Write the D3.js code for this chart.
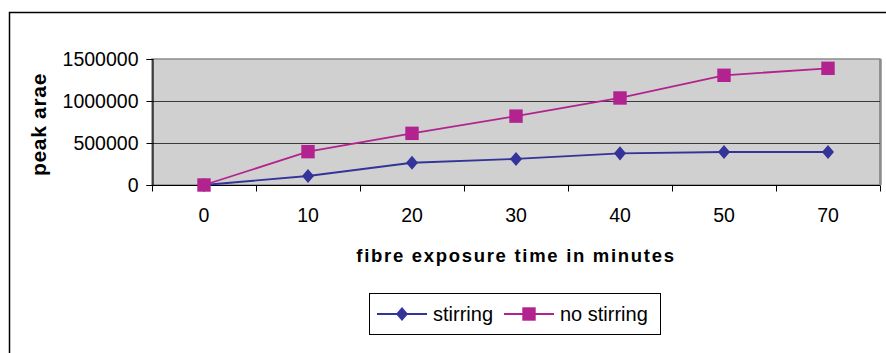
<!DOCTYPE html>
<html>
<head>
<meta charset="utf-8">
<script src="https://cdn.jsdelivr.net/npm/d3@7"></script>
<style>
  body { margin: 0; background: #fff; }
  text { font-family: Arial, "Liberation Sans", sans-serif; fill: #000; }
</style>
</head>
<body>
<div id="chart"></div>
<script>
// data
const categories = ["0", "10", "20", "30", "40", "50", "70"];
const stirring = [0, 107000, 265000, 310000, 377000, 393000, 393000];
const noStirring = [0, 397000, 615000, 820000, 1036000, 1306000, 1389000];
const yTicks = [0, 500000, 1000000, 1500000];

const W = 886, H = 353;
const plot = { left: 152, top: 59, right: 880, bottom: 185 };

const svg = d3.select("#chart").append("svg")
  .attr("width", W).attr("height", H);

// outer chart frame (only top and left visible)
svg.append("path")
  .attr("d", "M9.5," + H + "V12.5H" + W)
  .attr("fill", "none").attr("stroke", "#000").attr("stroke-width", 1.5);

const x = d3.scaleBand().domain(categories).range([plot.left, plot.right]);
const y = d3.scaleLinear().domain([0, 1500000]).range([plot.bottom, plot.top]);

// plot area
svg.append("rect")
  .attr("x", plot.left).attr("y", plot.top)
  .attr("width", plot.right - plot.left).attr("height", plot.bottom - plot.top)
  .attr("fill", "#d0d0d0").attr("stroke", "#8c8c8c").attr("stroke-width", 1.5);
svg.append("line")
  .attr("x1", plot.right + 0.5).attr("x2", plot.right + 0.5)
  .attr("y1", plot.top).attr("y2", plot.bottom)
  .attr("stroke", "#8c8c8c").attr("stroke-width", 2.5);

// gridlines
svg.selectAll(".grid").data(yTicks.filter(d => d > 0 && d < 1500000))
  .enter().append("line")
  .attr("x1", plot.left).attr("x2", plot.right)
  .attr("y1", d => Math.round(y(d)) + 0.5).attr("y2", d => Math.round(y(d)) + 0.5)
  .attr("stroke", "#3a3a3a").attr("stroke-width", 1);

// y axis
const yAxis = svg.append("g")
  .attr("transform", "translate(" + (plot.left + 0.5) + ",0)")
  .call(d3.axisLeft(y).tickValues(yTicks).tickSize(6).tickPadding(8).tickFormat(d3.format("d")));
yAxis.select(".domain").attr("stroke", "#000").attr("stroke-width", 1.2);
yAxis.selectAll(".tick line").attr("stroke", "#000");
yAxis.selectAll("text").style("font-size", "19.5px").style("font-family", "Arial, 'Liberation Sans', sans-serif");

// x axis, ticks at band edges
const xAxis = svg.append("g")
  .attr("transform", "translate(0," + (plot.bottom + 0.5) + ")");
xAxis.append("line")
  .attr("x1", plot.left).attr("x2", plot.right)
  .attr("stroke", "#000").attr("stroke-width", 1.2);
const edges = categories.map(c => x(c)).concat([x.range()[1]]);
xAxis.selectAll(".edge").data(edges).enter().append("line")
  .attr("x1", d => Math.round(d) + 0.5).attr("x2", d => Math.round(d) + 0.5)
  .attr("y1", 0).attr("y2", 6)
  .attr("stroke", "#000");
xAxis.selectAll(".lbl").data(categories).enter().append("text")
  .attr("x", d => x(d) + x.bandwidth() / 2)
  .attr("y", 36.5)
  .attr("text-anchor", "middle")
  .style("font-size", "19.5px")
  .text(d => d);

// axis titles
svg.append("text")
  .attr("x", (plot.left + plot.right) / 2).attr("y", 262)
  .attr("text-anchor", "middle")
  .style("font-size", "18.5px").style("font-weight", "bold").style("letter-spacing", "1.7px")
  .text("fibre exposure time in minutes");
svg.append("text")
  .attr("transform", "translate(46,124.5) rotate(-90)")
  .attr("text-anchor", "middle")
  .style("font-size", "21px").style("font-weight", "bold").style("letter-spacing", "0.7px")
  .text("peak arae");

// marker shapes
const diamond = {
  draw(ctx, size) {
    const w = Math.sqrt(size) * 0.5, h = w * 1.18;
    ctx.moveTo(0, -h); ctx.lineTo(w, 0); ctx.lineTo(0, h); ctx.lineTo(-w, 0); ctx.closePath();
  }
};

// series
const series = [
  { name: "stirring", values: stirring, color: "#333399", shape: diamond, size: 144 },
  { name: "no stirring", values: noStirring, color: "#b3238f", shape: d3.symbolSquare, size: 180 }
];
const line = d3.line()
  .x((d, i) => x(categories[i]) + x.bandwidth() / 2)
  .y(d => y(d));

series.forEach(s => {
  svg.append("path")
    .attr("d", line(s.values))
    .attr("fill", "none").attr("stroke", s.color).attr("stroke-width", 1.8);
  svg.selectAll(null).data(s.values).enter().append("path")
    .attr("d", d3.symbol().type(s.shape).size(s.size))
    .attr("transform", (d, i) => "translate(" + (x(categories[i]) + x.bandwidth() / 2) + "," + y(d) + ")")
    .attr("fill", s.color);
});

// legend
const legend = svg.append("g").attr("transform", "translate(369,293)");
legend.append("rect")
  .attr("x", 0.5).attr("y", 0.5).attr("width", 291).attr("height", 41)
  .attr("fill", "#fff").attr("stroke", "#000").attr("stroke-width", 1);
const legendX = [8, 135];
series.forEach((s, i) => {
  const g = legend.append("g").attr("transform", "translate(" + legendX[i] + ",21)");
  g.append("line").attr("x1", 0).attr("x2", 50)
    .attr("stroke", s.color).attr("stroke-width", 1.8);
  g.append("path")
    .attr("d", d3.symbol().type(s.shape).size(s.size))
    .attr("transform", "translate(25,0)")
    .attr("fill", s.color);
  g.append("text").attr("x", 56).attr("y", 7)
    .style("font-size", "20px")
    .text(s.name);
});
</script>
</body>
</html>
